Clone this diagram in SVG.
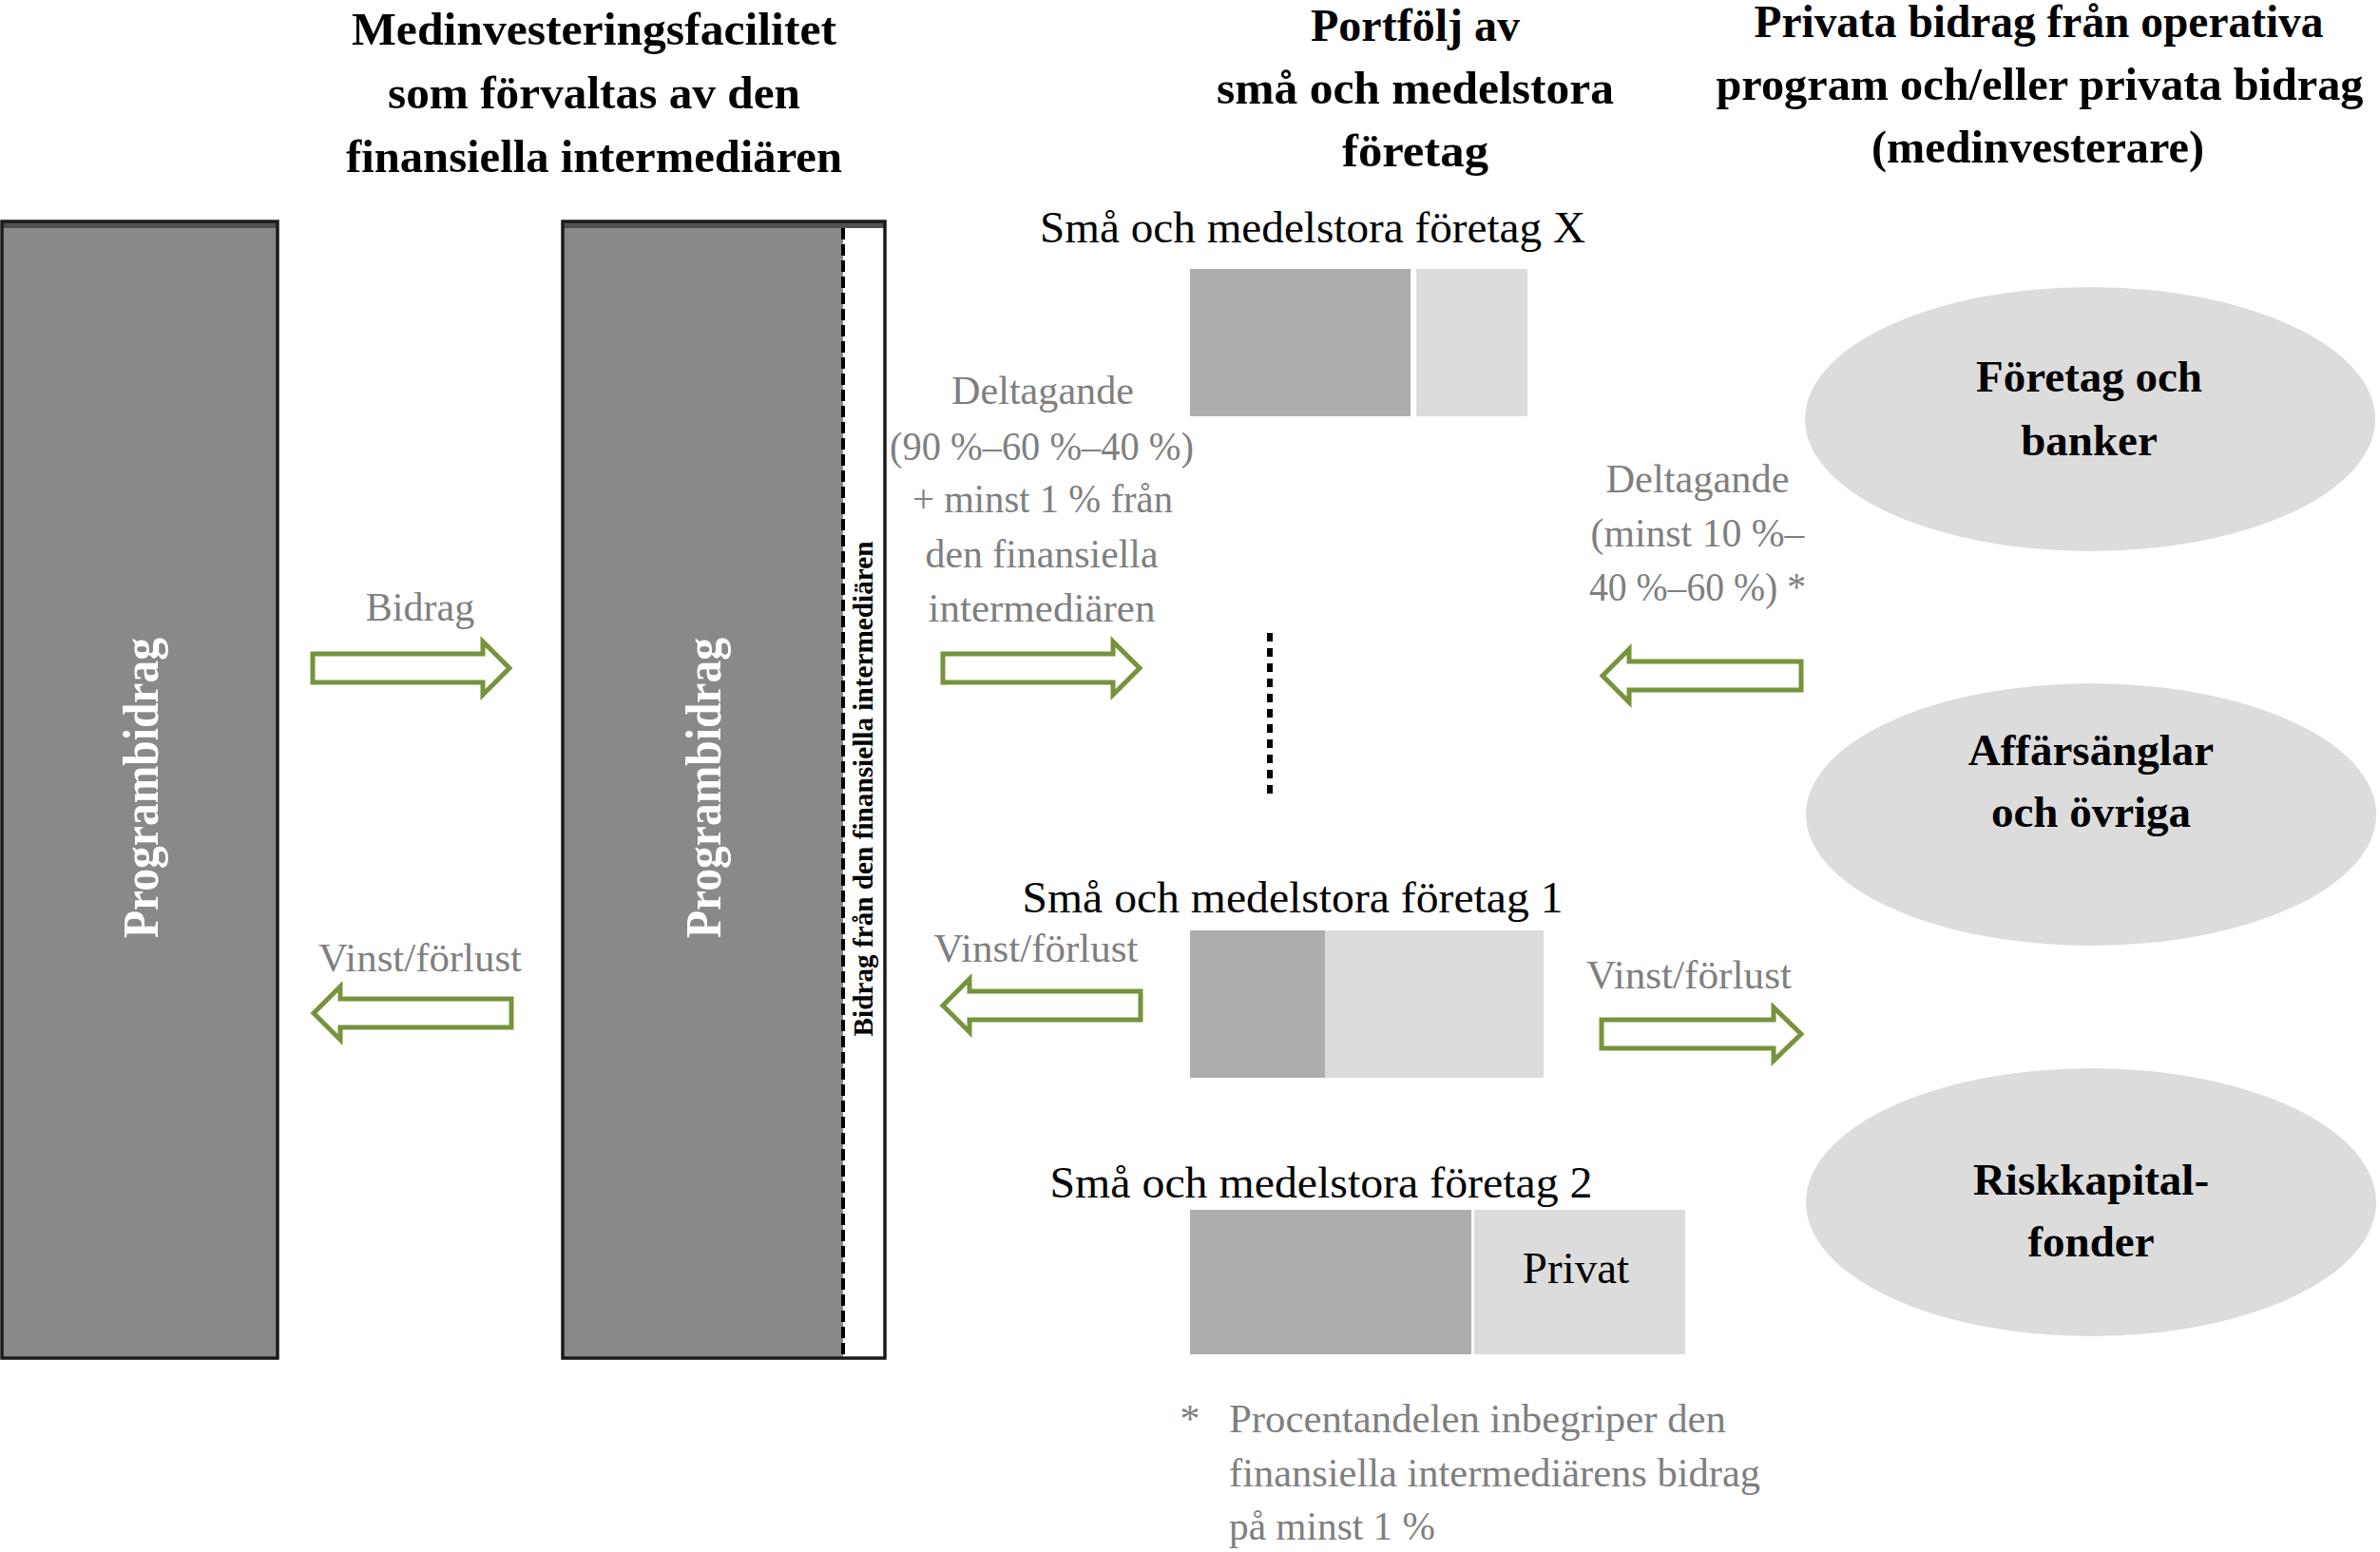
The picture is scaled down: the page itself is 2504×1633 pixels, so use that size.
<svg xmlns="http://www.w3.org/2000/svg" width="2504" height="1633" viewBox="0 0 2504 1633">
<style>
.h{font-family:"Liberation Serif",serif;font-weight:bold;font-size:48px;fill:#000;text-anchor:middle}
.g{font-family:"Liberation Serif",serif;font-size:42px;fill:#7f7f7f;text-anchor:middle}
.b{font-family:"Liberation Serif",serif;font-size:47px;fill:#000;text-anchor:middle}
.e{font-family:"Liberation Serif",serif;font-weight:bold;font-size:47px;fill:#000;text-anchor:middle}
.bar{fill:#898989}
.edge{fill:none;stroke:#1a1a1a;stroke-width:3.5}
.band{fill:#505050}
.arr{fill:#fff;stroke:#77933c;stroke-width:5;stroke-linejoin:miter}
.ell{fill:#dcdcdc}
.dk{fill:#adadad}
.lt{fill:#dcdcdc}
</style>
<rect width="2504" height="1633" fill="#fff"/>

<g id="title-facility">
<text class="h" x="625" y="47" textLength="510" lengthAdjust="spacingAndGlyphs">Medinvesteringsfacilitet</text>
<text class="h" x="625" y="114" textLength="434" lengthAdjust="spacingAndGlyphs">som förvaltas av den</text>
<text class="h" x="625" y="181" textLength="522" lengthAdjust="spacingAndGlyphs">finansiella intermediären</text>
</g>
<g id="title-portfolio">
<text class="h" x="1489" y="43" textLength="220" lengthAdjust="spacingAndGlyphs">Portfölj av</text>
<text class="h" x="1489" y="109" textLength="418" lengthAdjust="spacingAndGlyphs">små och medelstora</text>
<text class="h" x="1489" y="175" textLength="154" lengthAdjust="spacingAndGlyphs">företag</text>
</g>
<g id="title-private">
<text class="h" x="2145" y="39" textLength="599" lengthAdjust="spacingAndGlyphs">Privata bidrag från operativa</text>
<text class="h" x="2146" y="105" textLength="681" lengthAdjust="spacingAndGlyphs">program och/eller privata bidrag</text>
<text class="h" x="2144" y="171" textLength="350" lengthAdjust="spacingAndGlyphs">(medinvesterare)</text>
</g>

<g id="bar-program">
<rect class="bar" x="2" y="233" width="290" height="1196"/>
<rect class="band" x="2" y="233" width="290" height="7"/>
<rect class="edge" x="2" y="233" width="290" height="1196"/>
<text transform="translate(166,829) rotate(-90)" font-family="Liberation Serif, serif" font-weight="bold" font-size="52" fill="#fff" text-anchor="middle" textLength="316" lengthAdjust="spacingAndGlyphs">Programbidrag</text>
</g>

<g id="bar-facility">
<rect class="bar" x="592" y="233" width="295" height="1196"/>
<rect fill="#fff" x="887" y="233" width="44" height="1196"/>
<rect class="band" x="592" y="233" width="339" height="7"/>
<line x1="887" y1="240" x2="887" y2="1429" stroke="#000" stroke-width="4" stroke-dasharray="12 5"/>
<rect class="edge" x="592" y="233" width="339" height="1196"/>
<text transform="translate(758,829) rotate(-90)" font-family="Liberation Serif, serif" font-weight="bold" font-size="52" fill="#fff" text-anchor="middle" textLength="316" lengthAdjust="spacingAndGlyphs">Programbidrag</text>
<text transform="translate(918,830) rotate(-90)" font-family="Liberation Serif, serif" font-weight="bold" font-size="29" fill="#000" text-anchor="middle" textLength="521" lengthAdjust="spacingAndGlyphs">Bidrag från den finansiella intermediären</text>
</g>

<g id="sme-x">
<text class="b" x="1381" y="255" textLength="574" lengthAdjust="spacingAndGlyphs">Små och medelstora företag X</text>
<rect class="dk" x="1252" y="283" width="232" height="155"/>
<rect class="lt" x="1490" y="283" width="117" height="155"/>
</g>
<g id="sme-dots">
<line x1="1336" y1="666" x2="1336" y2="837" stroke="#000" stroke-width="6" stroke-dasharray="9 7"/>
</g>
<g id="sme-1">
<text class="b" x="1360" y="960" textLength="569" lengthAdjust="spacingAndGlyphs">Små och medelstora företag 1</text>
<rect class="dk" x="1252" y="979" width="142" height="155"/>
<rect class="lt" x="1394" y="979" width="230" height="155"/>
</g>
<g id="sme-2">
<text class="b" x="1390" y="1260" textLength="571" lengthAdjust="spacingAndGlyphs">Små och medelstora företag 2</text>
<rect class="dk" x="1252" y="1273" width="296" height="152"/>
<rect class="lt" x="1551" y="1273" width="222" height="152"/>
<text class="b" x="1658" y="1350">Privat</text>
</g>

<g id="inv-companies">
<ellipse class="ell" cx="2199" cy="441" rx="300" ry="139"/>
<text class="e" x="2198" y="412">Företag och</text>
<text class="e" x="2198" y="479">banker</text>
</g>
<g id="inv-angels">
<ellipse class="ell" cx="2200" cy="857" rx="300" ry="138"/>
<text class="e" x="2200" y="805">Affärsänglar</text>
<text class="e" x="2200" y="870">och övriga</text>
</g>
<g id="inv-vc">
<ellipse class="ell" cx="2200" cy="1265" rx="300" ry="141"/>
<text class="e" x="2200" y="1257">Riskkapital-</text>
<text class="e" x="2200" y="1322">fonder</text>
</g>

<g id="connectors">
<path class="arr" d="M329,688 L508,688 L508,675 L536,703 L508,731 L508,718 L329,718 Z"/>
<path class="arr" d="M538,1051 L358,1051 L358,1038 L330,1066 L358,1094 L358,1081 L538,1081 Z"/>
<path class="arr" d="M992,688 L1171,688 L1171,675 L1199,703 L1171,731 L1171,718 L992,718 Z"/>
<path class="arr" d="M1895,696 L1714,696 L1714,683 L1686,711 L1714,739 L1714,726 L1895,726 Z"/>
<path class="arr" d="M1685,1073 L1866,1073 L1866,1060 L1895,1088 L1866,1116 L1866,1103 L1685,1103 Z"/>
<path class="arr" d="M1200,1043 L1020,1043 L1020,1030 L992,1058 L1020,1086 L1020,1073 L1200,1073 Z"/>
<text class="g" x="442" y="653">Bidrag</text>
<text class="g" x="442" y="1022" textLength="214" lengthAdjust="spacingAndGlyphs">Vinst/förlust</text>
<text class="g" x="1097" y="425" textLength="192" lengthAdjust="spacingAndGlyphs">Deltagande</text>
<text class="g" x="1096" y="484" textLength="320" lengthAdjust="spacingAndGlyphs">(90 %–60 %–40 %)</text>
<text class="g" x="1097" y="539" textLength="274" lengthAdjust="spacingAndGlyphs">+ minst 1 % från</text>
<text class="g" x="1096" y="597" textLength="245" lengthAdjust="spacingAndGlyphs">den finansiella</text>
<text class="g" x="1096" y="654" textLength="239" lengthAdjust="spacingAndGlyphs">intermediären</text>
<text class="g" x="1090" y="1012" textLength="215" lengthAdjust="spacingAndGlyphs">Vinst/förlust</text>
<text class="g" x="1786" y="518" textLength="193" lengthAdjust="spacingAndGlyphs">Deltagande</text>
<text class="g" x="1786" y="575" textLength="225" lengthAdjust="spacingAndGlyphs">(minst 10 %–</text>
<text class="g" x="1786" y="632" textLength="228" lengthAdjust="spacingAndGlyphs">40 %–60 %) *</text>
<text class="g" x="1777" y="1040" textLength="216" lengthAdjust="spacingAndGlyphs">Vinst/förlust</text>
</g>

<g id="footnote">
<text class="g" x="1252" y="1507">*</text>
<text class="g" x="1293" y="1507" style="text-anchor:start" textLength="523" lengthAdjust="spacingAndGlyphs">Procentandelen inbegriper den</text>
<text class="g" x="1293" y="1564" style="text-anchor:start" textLength="559" lengthAdjust="spacingAndGlyphs">finansiella intermediärens bidrag</text>
<text class="g" x="1293" y="1620" style="text-anchor:start" textLength="217" lengthAdjust="spacingAndGlyphs">på minst 1 %</text>
</g>
</svg>
